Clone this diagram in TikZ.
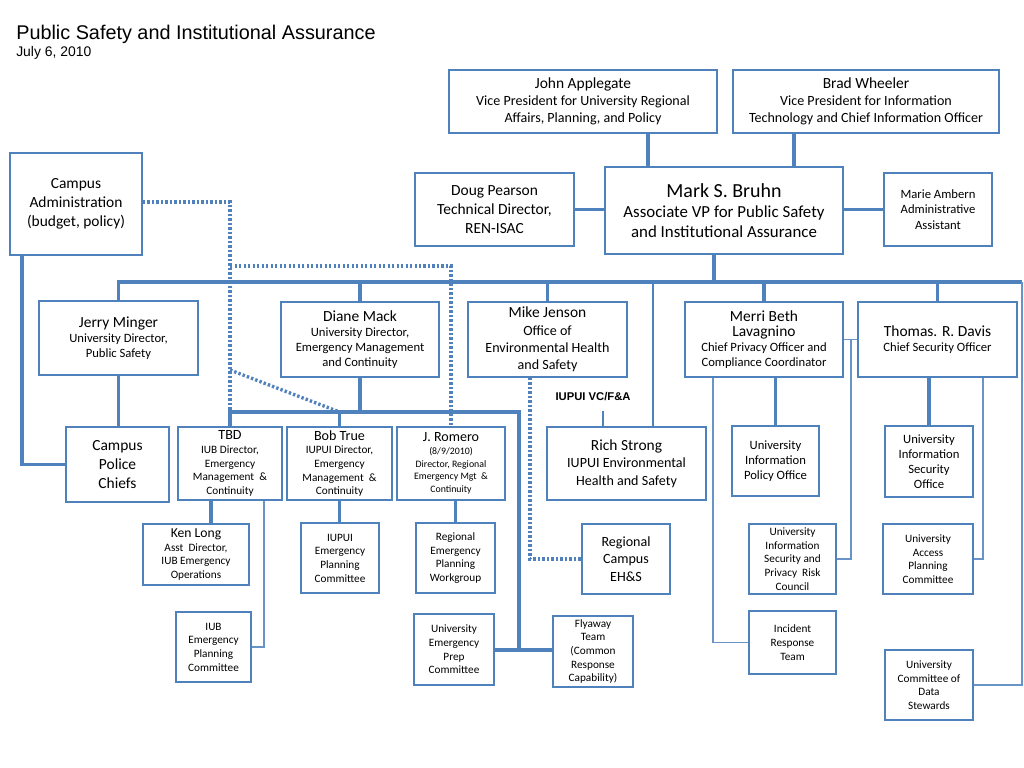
\documentclass[tikz,border=0pt]{standalone}
\usepackage{fontspec}
\setmainfont{Carlito}
\newfontfamily\arialfont{Liberation Sans}
\usetikzlibrary{shadows}
\definecolor{orgblue}{HTML}{4F81BD}
\newcommand\szbig{\fontsize{14.2}{17}\selectfont}
\newcommand\szlarge{\fontsize{12}{14.2}\selectfont}
\newcommand\szname{\fontsize{11}{13.6}\selectfont}
\newcommand\szmid{\fontsize{10}{12.3}\selectfont}
\newcommand\szsub{\fontsize{9}{10.8}\selectfont}
\newcommand\szsmall{\fontsize{8}{9.7}\selectfont}
\newcommand\sztiny{\fontsize{7}{9}\selectfont}

\begin{document}
\begin{tikzpicture}[
    x=0.025cm, y=-0.025cm,
    bbk/.style={draw=orgblue, line width=2.2pt},
    mid/.style={draw=orgblue, line width=1.5pt},
    lnk/.style={draw=orgblue!85, line width=1pt},
    dotl/.style={draw=orgblue, line width=2.4pt, dash pattern=on 1.7pt off 1.5pt},
    unit/.style={draw=orgblue, line width=1.3pt, fill=white, align=center, inner sep=1pt,
        drop shadow={shadow xshift=0.8pt, shadow yshift=-0.8pt, opacity=0.3}},
    lbl/.style={inner sep=0pt, anchor=base west}
]
\fill[white] (0,0) rectangle (1024,768);
\useasboundingbox (0,0) rectangle (1024,768);
% Title
\node[lbl, font=\arialfont\fontsize{14.1}{17}\selectfont] (title) at (16,39.5) {Public Safety and Institutional Assurance};
\node[lbl, font=\arialfont\fontsize{9.9}{12}\selectfont]  (date)  at (16,57) {July 6, 2010};
% Top row
\node[unit, minimum width=3.3cm, minimum height=2.55cm, font=\fontsize{11}{13.6}\selectfont] (admin) at (76,204)
    {Campus\\Administration\\(budget, policy)};
\node[unit, minimum width=6.7cm, minimum height=1.575cm, font=\szmid] (john) at (583,101.5)
    {{\szname John Applegate}\\Vice President for University Regional\\Affairs, Planning, and Policy};
\node[unit, minimum width=6.65cm, minimum height=1.575cm, font=\szmid] (brad) at (866,101.5)
    {{\szname Brad Wheeler}\\Vice President for Information\\Technology and Chief Information Officer};
\node[unit, minimum width=3.975cm, minimum height=1.825cm, font=\szname] (doug) at (494.5,209.5)
    {Doug Pearson\\Technical Director,\\REN-ISAC};
\node[unit, minimum width=5.95cm, minimum height=2.175cm, font=\szlarge] (bruhn) at (724,210.5)
    {{\szbig Mark S. Bruhn}\\Associate VP for Public Safety\\and Institutional Assurance};
\node[unit, minimum width=2.7cm, minimum height=1.825cm, font=\szsub] (marie) at (938,209.5)
    {Marie Ambern\\Administrative\\Assistant};
% Directors
\node[unit, minimum width=3.975cm, minimum height=1.85cm, font=\szsub] (jerry) at (118.5,338)
    {{\szname Jerry Minger}\\University Director,\\Public Safety};
\node[unit, minimum width=3.95cm, minimum height=1.875cm, font=\szsub] (diane) at (360,339.5)
    {{\szname Diane Mack}\\University Director,\\Emergency Management\\and Continuity};
\node[unit, minimum width=3.975cm, minimum height=1.875cm, font=\szmid] (mike) at (547.5,339.5)
    {{\szname Mike Jenson}\\Office of\\Environmental Health\\and Safety};
\node[unit, minimum width=3.95cm, minimum height=1.875cm, font=\szsub] (merri) at (764,339.5)
    {{\szname Merri Beth}\\{\szname Lavagnino}\\Chief Privacy Officer and\\Compliance Coordinator};
\node[unit, minimum width=3.975cm, minimum height=1.875cm, font=\szsub] (thomas) at (937.5,339.5)
    {{\szname Thomas. R. Davis}\\Chief Security Officer};
% Third row
\node[unit, minimum width=2.575cm, minimum height=1.875cm, font=\szname] (police) at (117.5,464.5)
    {Campus\\Police\\Chiefs};
\node[unit, minimum width=2.6cm, minimum height=1.825cm, font=\szsmall] (tbd) at (230,463.5)
    {{\szmid TBD}\\IUB Director,\\Emergency\\Management\ \ \&\\Continuity};
\node[unit, minimum width=2.625cm, minimum height=1.825cm, font=\szsmall] (bob) at (339.5,463.5)
    {{\szmid Bob True}\\IUPUI Director,\\Emergency\\Management\ \ \&\\Continuity};
\node[unit, minimum width=2.7cm, minimum height=1.825cm, font=\sztiny] (romero) at (451,463.5)
    {{\szmid J. Romero}\\(8/9/2010)\\Director,\ Regional\\Emergency Mgt\ \ \&\\Continuity};
\node[unit, minimum width=3.975cm, minimum height=1.825cm, font=\szmid] (rich) at (626.5,463.5)
    {{\szname Rich Strong}\\IUPUI Environmental\\Health and Safety};
\node[unit, minimum width=2.175cm, minimum height=1.75cm, font=\szsub] (uipo) at (775.5,461)
    {University\\Information\\Policy Office};
\node[unit, minimum width=2.2cm, minimum height=1.775cm, font=\szsub] (uiso) at (929,461.5)
    {University\\Information\\Security\\Office};
\node[font=\arialfont\bfseries\fontsize{8}{10}\selectfont, inner sep=0pt] (vcfa) at (593,397) {IUPUI VC/F\&A};
% Fourth row
\node[unit, minimum width=2.65cm, minimum height=1.525cm, font=\szsmall] (kenlong) at (196,554.5)
    {{\fontsize{9.7}{11}\selectfont Ken Long}\\Asst\ \ Director,\\IUB Emergency\\Operations};
\node[unit, minimum width=1.95cm, minimum height=1.75cm, font=\szsmall] (iupuiepc) at (340,558)
    {IUPUI\\Emergency\\Planning\\Committee};
\node[unit, minimum width=1.975cm, minimum height=1.75cm, font=\szsmall] (repw) at (455.5,558)
    {Regional\\Emergency\\Planning\\Workgroup};
\node[unit, minimum width=2.2cm, minimum height=1.75cm, font=\szmid] (rcehs) at (626,559)
    {Regional\\Campus\\EH\&S};
\node[unit, minimum width=2.175cm, minimum height=1.75cm, font=\szsmall] (uisprc) at (792.5,559)
    {University\\Information\\Security and\\Privacy\ \ Risk\\Council};
\node[unit, minimum width=2.25cm, minimum height=1.75cm, font=\szsmall] (uapc) at (928,559)
    {University\\Access\\Planning\\Committee};
% Bottom row
\node[unit, minimum width=1.875cm, minimum height=1.75cm, font=\szsmall] (iubepc) at (213.5,647)
    {IUB\\Emergency\\Planning\\Committee};
\node[unit, minimum width=2cm, minimum height=1.775cm, font=\szsmall] (uepc) at (454,649.5)
    {University\\Emergency\\Prep\\Committee};
\node[unit, minimum width=2cm, minimum height=1.775cm, font=\szsmall] (flyaway) at (593,651.5)
    {Flyaway\\Team\\(Common\\Response\\Capability)};
\node[unit, minimum width=2.175cm, minimum height=1.575cm, font=\szsmall] (irt) at (792.5,642.5)
    {Incident\\Response\\Team};
\node[unit, minimum width=2.2cm, minimum height=1.75cm, font=\szsmall] (stewards) at (929,685)
    {University\\Committee of\\Data\\Stewards};
% Helper coordinates
\coordinate (jb)   at (648,150);
\coordinate (bw)   at (794,150);
\coordinate (bus)  at (714,282);
\coordinate (busE) at (1022,282);
\coordinate (rv)   at (653,282);
\coordinate (adm)  at (22,300);
\coordinate (sub)  at (230,412);
\coordinate (subE) at (519,412);
\coordinate (fly)  at (519,650);
\coordinate (kl)   at (211,510);
\coordinate (tr)   at (264,510);
\coordinate (rs)   at (603,411);
\coordinate (ir)   at (713,400);
\coordinate (mt)   at (851,339.5);
\coordinate (ua)   at (983,400);
\coordinate (dA)   at (230,202);
\coordinate (dB)   at (230,370);
\coordinate (dC)   at (230,266);
\coordinate (dm)   at (530,400);
% Vice presidents and staff
\draw[bbk] (jb |- john.south) -- (jb |- bruhn.north);
\draw[bbk] (bw |- brad.south) -- (bw |- bruhn.north);
\draw[bbk] (doug.east) -- (doug.east -| bruhn.west);
\draw[bbk] (bruhn.east |- marie.west) -- (marie.west);
% Main bus
\draw[bbk] (bus |- bruhn.south) -- (bus);
\draw[bbk] (jerry.north) |- (busE);
\draw[bbk] (diane.north |- bus) -- (diane.north);
\draw[bbk] (mike.north |- bus) -- (mike.north);
\draw[bbk] (merri.north |- bus) -- (merri.north);
\draw[bbk] (thomas.north |- bus) -- (thomas.north);
\draw[mid] (rv) -- (rv |- rich.north);
\draw[lnk] (busE) |- (stewards.east);
% Public safety
\draw[bbk] (adm |- admin.south) |- (police.west);
\draw[bbk] (jerry.south) -- (jerry.south |- police.north);
% Emergency management
\draw[bbk] (diane.south) -- (diane.south |- sub);
\draw[bbk] (tbd.north) |- (subE) -- (fly);
\draw[mid] (bob.north |- sub) -- (bob.north);
\draw[bbk, line width=3pt] (uepc.east |- fly) -- (flyaway.west |- fly);
\draw[bbk] (kl |- tbd.south) -- (kl |- kenlong.north);
\draw[lnk] (tr |- tbd.south) |- (iubepc.east);
\draw[mid] (bob.south) -- (bob.south |- iupuiepc.north);
\draw[mid] (repw.north |- romero.south) -- (repw.north);
% Environmental health
\draw[mid] (rs) -- (rs |- rich.north);
% Privacy and security
\draw[bbk] (uipo.north |- merri.south) -- (uipo.north);
\draw[bbk] (uiso.north |- thomas.south) -- (uiso.north);
\draw[lnk] (ir |- merri.south) |- (irt.west);
\draw[lnk] (merri.east |- mt) -- (thomas.west |- mt);
\draw[lnk] (mt) |- (uisprc.east);
\draw[lnk] (ua |- thomas.south) |- (uapc.east);
% Dotted lines
\draw[dotl] (admin.east |- dA) -- (dA) -- (sub);
\draw[dotl] (dB) -- (bob.north |- sub);
\draw[dotl] (dC) -| (romero.north);
\draw[dotl] (dm |- mike.south) |- (rcehs.west);
\end{tikzpicture}
\end{document}
